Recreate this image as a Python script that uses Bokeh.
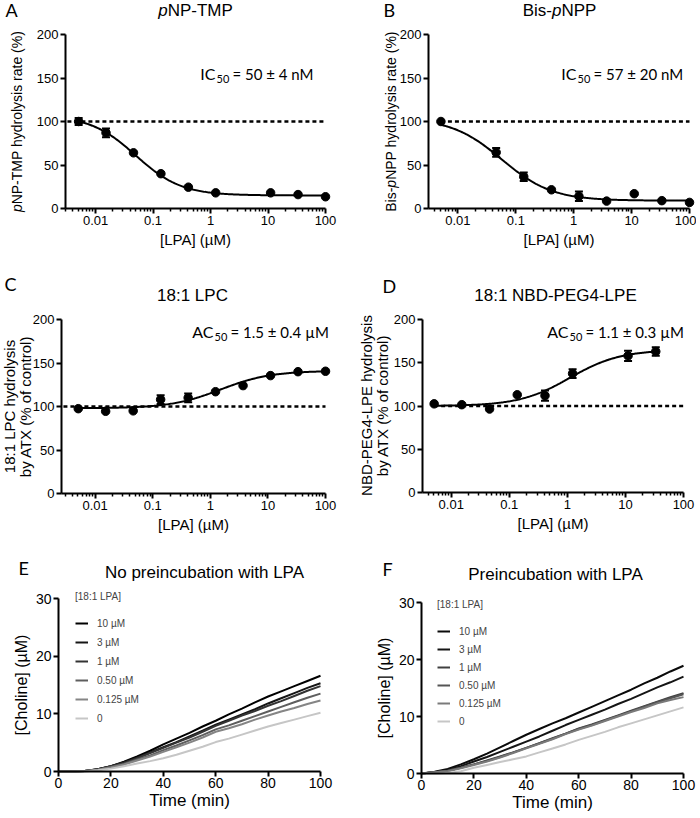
import math
import numpy as np
from bokeh.plotting import figure
from bokeh.models import (ColumnDataSource, Whisker, TeeHead, Label, FixedTicker,
                          Legend, LegendItem, Range1d, CustomJSTickFormatter,
                          LogAxis, LinearAxis)
from bokeh.layouts import column, row
from bokeh.embed import file_html
from bokeh.resources import INLINE

# ---------------- data ----------------
lpa_A = [0.00508, 0.0152, 0.0457, 0.137, 0.412, 1.23, 11.1, 33.3, 100.0]
rate_A = [100, 87, 64, 40, 24.5, 18, 18, 16, 13.5]
sem_A = [4, 5, 0, 0, 0, 0, 0, 0, 0]
fit_A = dict(bottom=15, top=107, mid=0.050, hill=1.1, kind="inhib")

lpa_B = [0.00508, 0.0457, 0.137, 0.412, 1.23, 3.70, 11.1, 33.3, 100.0]
rate_B = [100, 64.5, 36.5, 21.5, 14, 8.5, 17, 9, 7]
sem_B = [0, 5, 5, 0, 5.5, 0, 0, 0, 0]
fit_B = dict(bottom=9, top=104, mid=0.057, hill=1.0, kind="inhib")

lpa_C = [0.00508, 0.0152, 0.0457, 0.137, 0.412, 1.23, 3.70, 11.1, 33.3, 100.0]
rate_C = [97.5, 94.5, 95, 108, 110, 117, 124, 135.5, 140, 140.5]
sem_C = [0, 0, 0, 5, 5, 0, 0, 0, 0, 0]
fit_C = dict(bottom=98, top=141, mid=1.5, hill=1.0, kind="act")

lpa_D = [0.00508, 0.0152, 0.0457, 0.137, 0.412, 1.23, 11.1, 33.3]
rate_D = [102.5, 101.5, 96.5, 113, 112, 137.5, 158, 163]
sem_D = [0, 0, 0, 0, 6, 5, 6, 5]
fit_D = dict(bottom=100, top=165, mid=1.1, hill=1.0, kind="act")

control_level = 100

time_min = [0, 5, 10, 15, 20, 25, 30, 35, 40, 45, 50, 55, 60, 65, 70, 75, 80, 85, 90, 95, 100]
E_10uM = [0, 0, 0.1, 0.4, 0.9, 1.7, 2.6, 3.6, 4.7, 5.7, 6.7, 7.8, 8.8, 9.9, 10.9, 12.0, 13.0, 13.9, 14.8, 15.7, 16.6]
E_3uM = [0, 0, 0.1, 0.4, 0.9, 1.6, 2.4, 3.3, 4.2, 5.1, 6.1, 7.1, 8.1, 9.0, 9.9, 10.8, 11.8, 12.7, 13.6, 14.5, 15.3]
E_1uM = [0, 0, 0.1, 0.4, 0.9, 1.5, 2.3, 3.2, 4.1, 5.0, 5.9, 6.9, 7.9, 8.8, 9.7, 10.5, 11.4, 12.2, 13.1, 14.0, 14.8]
E_05uM = [0, 0, 0.1, 0.3, 0.8, 1.3, 2.1, 2.8, 3.7, 4.5, 5.4, 6.3, 7.3, 8.0, 8.8, 9.6, 10.4, 11.2, 12.0, 12.8, 13.5]
E_0125uM = [0, 0, 0.1, 0.3, 0.7, 1.2, 1.9, 2.6, 3.4, 4.2, 5.0, 5.9, 6.9, 7.5, 8.2, 9.0, 9.7, 10.4, 11.0, 11.7, 12.3]
E_0uM = [0, 0, 0, 0.2, 0.5, 0.9, 1.4, 1.8, 2.3, 2.9, 3.6, 4.3, 5.1, 5.7, 6.4, 7.1, 7.8, 8.4, 9.0, 9.6, 10.2]

F_10uM = [0, 0.3, 0.8, 1.6, 2.5, 3.5, 4.6, 5.7, 6.8, 7.8, 8.8, 9.7, 10.7, 11.7, 12.7, 13.7, 14.7, 15.8, 16.8, 17.9, 18.9]
F_3uM = [0, 0.2, 0.6, 1.3, 2.1, 2.9, 3.8, 4.7, 5.6, 6.5, 7.5, 8.5, 9.4, 10.3, 11.2, 12.2, 13.1, 14.1, 15.1, 16.0, 17.0]
F_1uM = [0, 0.2, 0.5, 1.0, 1.6, 2.3, 3.0, 3.7, 4.5, 5.3, 6.2, 7.0, 7.9, 8.6, 9.4, 10.2, 11.0, 11.8, 12.6, 13.4, 14.1]
F_05uM = [0, 0.2, 0.5, 1.0, 1.6, 2.2, 2.9, 3.7, 4.5, 5.3, 6.1, 7.0, 7.8, 8.5, 9.3, 10.1, 10.9, 11.7, 12.5, 13.2, 13.9]
F_0125uM = [0, 0.2, 0.4, 0.9, 1.5, 2.1, 2.8, 3.6, 4.4, 5.2, 6.0, 6.9, 7.7, 8.4, 9.2, 10.0, 10.8, 11.5, 12.3, 12.9, 13.4]
F_0uM = [0, 0, 0.1, 0.4, 1.0, 1.5, 2.0, 2.5, 3.0, 3.7, 4.4, 5.1, 5.9, 6.6, 7.3, 8.1, 8.8, 9.5, 10.2, 10.9, 11.6]

legend_labels = ["10 µM", "3 µM", "1 µM", "0.50 µM", "0.125 µM", "0"]
legend_title = "[18:1 LPA]"

x_log_ticks = [0.01, 0.1, 1, 10, 100]
x_log_tick_labels = ["0.01", "0.1", "1", "10", "100"]
y_pct_ticks = [0, 50, 100, 150, 200]
time_ticks = [0, 20, 40, 60, 80, 100]
choline_ticks = [0, 10, 20, 30]

# ---------------- styles / layout ----------------
E_colors = ["#000000", "#151515", "#333333", "#5e5e5e", "#858585", "#c6c6c6"]
F_colors = ["#0a0a0a", "#151515", "#404040", "#555555", "#7a7a7a", "#c6c6c6"]

FONT = "Liberation Sans"
ANNOT_FONT = "Lato"

# page coordinates: figure origin/size and the axis box (fl/fr: x of axis start/end, ft/fb: y of top/bottom)
L = {
    "A": dict(ox=0, oy=0, w=350, h=270, fl=65, fr=325, ft=34, fb=208, xmin=0.003, dash_from_axis=True),
    "B": dict(ox=350, oy=0, w=346, h=270, fl=428, fr=689, ft=34, fb=208, xmin=0.0031, dash_from_axis=False),
    "C": dict(ox=0, oy=270, w=350, h=270, fl=61, fr=325, ft=319, fb=493, xmin=0.0026, dash_from_axis=True),
    "D": dict(ox=350, oy=270, w=346, h=270, fl=422, fr=683, ft=319, fb=492, xmin=0.0032, dash_from_axis=False),
    "E": dict(ox=0, oy=540, w=350, h=274, fl=58, fr=320, ft=598, fb=771),
    "F": dict(ox=350, oy=540, w=346, h=274, fl=421, fr=683, ft=602, fb=773),
}

ARIAL_W = {' ': 278, '(': 333, ')': 333, '%': 889, '-': 333, '.': 278, ':': 278, '[': 278, ']': 278,
           'µ': 576, 'A': 667, 'B': 667, 'C': 722, 'D': 722, 'E': 667, 'G': 778, 'L': 556, 'M': 833,
           'N': 722, 'P': 667, 'T': 611, 'X': 667, 'a': 556, 'b': 556, 'c': 500, 'd': 556, 'e': 556,
           'f': 278, 'h': 556, 'i': 222, 'l': 222, 'n': 556, 'o': 556, 'p': 556, 'r': 333, 's': 500,
           't': 278, 'u': 556, 'w': 722, 'y': 500}


def text_w(s, size):
    return sum(ARIAL_W.get(ch, 556) for ch in s) / 1000.0 * size


def style_axis(ax, tick_size, label_size):
    ax.axis_line_width = 2
    ax.axis_line_color = "black"
    ax.major_tick_line_width = 2
    ax.major_tick_line_color = "black"
    ax.major_tick_in = 0
    ax.major_tick_out = 5
    ax.minor_tick_line_width = 1.5
    ax.minor_tick_line_color = "black"
    ax.minor_tick_in = 0
    ax.minor_tick_out = 3
    ax.major_label_text_font = FONT
    ax.major_label_text_font_size = tick_size
    ax.major_label_text_color = "black"
    ax.major_label_standoff = 2
    ax.axis_label_text_font = FONT
    ax.axis_label_text_font_style = "normal"
    ax.axis_label_text_font_size = label_size
    ax.axis_label_text_color = "black"
    ax.axis_label_standoff = 3


def make_fig(key, log_x):
    c = L[key]
    ox, oy, w, h = c["ox"], c["oy"], c["w"], c["h"]
    if log_x:
        lo = math.log10(c["xmin"])
        k = (2 - lo) / (c["fr"] - c["fl"])
        xr = Range1d(10 ** (lo - (c["fl"] - ox) * k), 10 ** (2 + (ox + w - c["fr"]) * k))
        y0, y1 = 0, 200
    else:
        k = 100.0 / (c["fr"] - c["fl"])
        xr = Range1d(-(c["fl"] - ox) * k, 100 + (ox + w - c["fr"]) * k)
        y0, y1 = 0, 30
    ky = (y1 - y0) / (c["fb"] - c["ft"])
    yr = Range1d(y0 - (oy + h - c["fb"]) * ky, y1 + (c["ft"] - oy) * ky)
    p = figure(width=w, height=h, title=None,
               x_axis_type="log" if log_x else "linear", x_range=xr, y_range=yr,
               x_axis_location=None, y_axis_location=None,
               min_border_left=0, min_border_right=0, min_border_top=0, min_border_bottom=0,
               output_backend="svg", toolbar_location=None)
    p.outline_line_color = None
    p.grid.visible = False
    p.background_fill_color = "white"
    p.border_fill_color = "white"
    if log_x:
        minor = [kk * 10.0 ** e for e in range(-3, 2) for kk in range(2, 10)
                 if c["xmin"] <= kk * 10.0 ** e <= 100]
        xa = LogAxis(fixed_location=0, bounds=(c["xmin"], 100),
                     ticker=FixedTicker(ticks=x_log_ticks, minor_ticks=minor),
                     formatter=CustomJSTickFormatter(
                         args=dict(tv=x_log_ticks, tl=x_log_tick_labels),
                         code="""
                         for (let i = 0; i < tv.length; i++) {
                           if (Math.abs(Math.log10(tv[i]) - Math.log10(tick)) < 1e-6) return tl[i];
                         }
                         return "";"""),
                     axis_label="[LPA] (µM)")
        style_axis(xa, "13px", "15px")
        ya = LinearAxis(fixed_location=c["xmin"], bounds=(0, 200),
                        ticker=FixedTicker(ticks=y_pct_ticks, minor_ticks=[]))
        style_axis(ya, "13px", "15px")
    else:
        xa = LinearAxis(fixed_location=0, bounds=(0, 100),
                        ticker=FixedTicker(ticks=time_ticks, minor_ticks=[]),
                        axis_label="Time (min)")
        style_axis(xa, "14px", "17px")
        xa.major_label_standoff = 1
        xa.axis_label_standoff = 0
        ya = LinearAxis(fixed_location=0, bounds=(0, 30),
                        ticker=FixedTicker(ticks=choline_ticks, minor_ticks=[]),
                        axis_label="[Choline] (µM)")
        style_axis(ya, "14px", "16px")
    p.add_layout(xa, "below")
    p.add_layout(ya, "left")
    return p


def label(p, key, px, py, text, size, font=FONT, style="normal", align="left",
          baseline="middle", angle=0.0):
    c = L[key]
    p.add_layout(Label(x=px - c["ox"], y=c["oy"] + c["h"] - py, x_units="screen", y_units="screen",
                       text=text, text_font=font, text_font_size=f"{size}px",
                       text_font_style=style, text_align=align, text_baseline=baseline,
                       angle=angle, text_color="black"))


def rich(p, key, cx, cy, parts, size, vertical=False):
    total = sum(text_w(t, size) for t, _ in parts)
    off = 0.0
    for t, st in parts:
        if vertical:
            label(p, key, cx, cy + total / 2 - off, t, size, style=st, align="left",
                  angle=math.pi / 2)
        else:
            label(p, key, cx - total / 2 + off, cy, t, size, style=st, align="left")
        off += text_w(t, size)


def vlabel(p, key, cx, cy, text, size):
    label(p, key, cx, cy, text, size, align="center", angle=math.pi / 2)


def sub_text(p, key, x_main_end, x_sub, x_rest, y, head, subs, rest):
    label(p, key, x_main_end, y, head, 16, font=ANNOT_FONT, align="right")
    label(p, key, x_sub, y + 5, subs, 11, font=ANNOT_FONT, align="left")
    label(p, key, x_rest, y, rest, 15, font=ANNOT_FONT, align="left")


def dose_panel(key, conc, rate, sem, fit):
    c = L[key]
    p = make_fig(key, True)
    dash_start = c["xmin"] * 1.08 if c["dash_from_axis"] else conc[0]
    p.line([dash_start, 100], [control_level, control_level], line_color="black",
           line_width=2.3, line_dash="4 3")
    xs = np.logspace(math.log10(conc[0]), math.log10(conc[-1]), 200)
    if fit["kind"] == "inhib":
        ys = fit["bottom"] + (fit["top"] - fit["bottom"]) / (1 + (xs / fit["mid"]) ** fit["hill"])
    else:
        ys = fit["bottom"] + (fit["top"] - fit["bottom"]) / (1 + (fit["mid"] / xs) ** fit["hill"])
    p.line(xs, ys, line_color="black", line_width=2)
    ex = [x for x, s in zip(conc, sem) if s > 0]
    ey = [y for y, s in zip(rate, sem) if s > 0]
    es = [s for s in sem if s > 0]
    src = ColumnDataSource(dict(x=ex, lower=[y - s for y, s in zip(ey, es)],
                                upper=[y + s for y, s in zip(ey, es)]))
    p.add_layout(Whisker(base="x", lower="lower", upper="upper", source=src,
                         line_color="black", line_width=2,
                         upper_head=TeeHead(size=8, line_width=2, line_color="black"),
                         lower_head=TeeHead(size=8, line_width=2, line_color="black")))
    p.scatter(conc, rate, size=8.5, marker="circle", fill_color="black", line_color="black")
    return p


# ---- A ----
pA = dose_panel("A", lpa_A, rate_A, sem_A, fit_A)
label(pA, "A", 5, 9, "A", 18, font=ANNOT_FONT)
rich(pA, "A", 195, 10, [("p", "italic"), ("NP-TMP", "normal")], 17)
rich(pA, "A", 16, 121, [("p", "italic"), ("NP-TMP hydrolysis rate (%)", "normal")], 14, vertical=True)
sub_text(pA, "A", 215, 216, 232, 73, "IC", "50", "= 50 ± 4 nM")

# ---- B ----
pB = dose_panel("B", lpa_B, rate_B, sem_B, fit_B)
label(pB, "B", 383, 9, "B", 18, font=ANNOT_FONT)
rich(pB, "B", 559, 10, [("Bis-", "normal"), ("p", "italic"), ("NPP", "normal")], 17)
rich(pB, "B", 390, 121, [("Bis-", "normal"), ("p", "italic"), ("NPP hydrolysis rate (%)", "normal")],
     14, vertical=True)
sub_text(pB, "B", 576, 577, 593, 73, "IC", "50", "= 57 ± 20 nM")

# ---- C ----
pC = dose_panel("C", lpa_C, rate_C, sem_C, fit_C)
label(pC, "C", 4, 283, "C", 18, font=ANNOT_FONT)
label(pC, "C", 192, 295, "18:1 LPC", 17, align="center")
vlabel(pC, "C", 9, 406, "18:1 LPC hydrolysis", 15)
vlabel(pC, "C", 25, 406, "by ATX (% of control)", 15)
sub_text(pC, "C", 213, 214, 230, 331, "AC", "50", "= 1.5 ± 0.4 µM")

# ---- D ----
pD = dose_panel("D", lpa_D, rate_D, sem_D, fit_D)
label(pD, "D", 382, 285, "D", 18, font=ANNOT_FONT)
label(pD, "D", 555, 295, "18:1 NBD-PEG4-LPE", 17, align="center")
vlabel(pD, "D", 366, 405, "NBD-PEG4-LPE hydrolysis", 15)
vlabel(pD, "D", 382, 405, "by ATX (% of control)", 15)
sub_text(pD, "D", 568, 569, 585, 331, "AC", "50", "= 1.1 ± 0.3 µM")


# ---- E / F ----
def kinetic_panel(key, series, colors, title, letter, letter_xy, title_xy, leg_xy, spacing, tstand):
    c = L[key]
    p = make_fig(key, False)
    items = []
    for ys, col, lab in zip(series, colors, legend_labels):
        r = p.line(time_min, ys, line_color=col, line_width=2)
        items.append(LegendItem(label=lab, renderers=[r]))
    leg = Legend(items=items, location=(leg_xy[0] - c["ox"], c["oy"] + c["h"] - leg_xy[1]),
                 title=legend_title,
                 title_text_font=FONT, title_text_font_size="10px", title_text_font_style="normal",
                 label_text_font=FONT, label_text_font_size="10px",
                 glyph_width=13, glyph_height=14, label_height=14, spacing=spacing,
                 padding=0, margin=0, label_standoff=9, title_standoff=tstand,
                 border_line_color=None, background_fill_alpha=0)
    p.add_layout(leg)
    label(p, key, letter_xy[0], letter_xy[1], letter, 18, font=ANNOT_FONT)
    label(p, key, title_xy[0], title_xy[1], title, 17, align="center")
    return p


pE = kinetic_panel("E", [E_10uM, E_3uM, E_1uM, E_05uM, E_0125uM, E_0uM], E_colors,
                   "No preincubation with LPA", "E", (18, 567), (204, 572), (75, 725), 5, 14)
pF = kinetic_panel("F", [F_10uM, F_3uM, F_1uM, F_05uM, F_0125uM, F_0uM], F_colors,
                   "Preincubation with LPA", "F", (382, 568), (555, 574), (437, 728), 4, 14)

layout = column(row(pA, pB, spacing=0), row(pC, pD, spacing=0), row(pE, pF, spacing=0), spacing=0)

open("out.html", "w").write(file_html(layout, INLINE))
